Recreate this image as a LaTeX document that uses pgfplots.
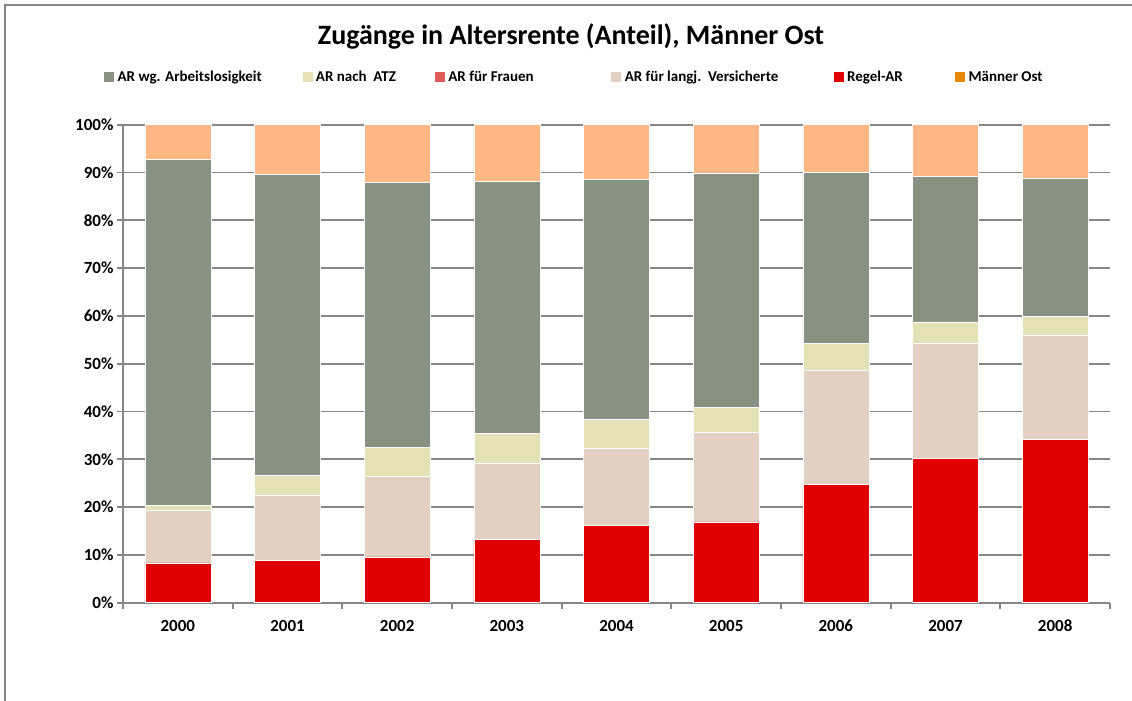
\documentclass[border=0pt]{standalone}
\usepackage{pgfplots}
\pgfplotsset{compat=1.18}
\usepackage{fontspec}
\setmainfont{Carlito}
\definecolor{cW}{RGB}{135,146,130}
\definecolor{cA}{RGB}{227,225,181}
\definecolor{cF}{RGB}{227,90,90}
\definecolor{cL}{RGB}{226,208,195}
\definecolor{cR}{RGB}{224,0,0}
\definecolor{cM}{RGB}{229,138,0}
\definecolor{cS}{RGB}{255,183,132}
\definecolor{gridgray}{RGB}{134,134,134}
\begin{document}
\begin{tikzpicture}[x=1pt,y=1pt]
\path[use as bounding box] (0,0) rectangle (1132,701);
\draw[gridgray, line width=2.5pt] (5,0) -- (5,696) -- (1132,696);
\node[font=\bfseries\fontsize{28}{32}\selectfont] at (571,665) {Zugänge in Altersrente (Anteil), Männer Ost};
\begin{axis}[
  at={(123pt,98.3pt)}, anchor=south west,
  scale only axis, width=987pt, height=478pt,
  ybar stacked, bar width=66pt,
  xmin=-0.5, xmax=8.5, ymin=0, ymax=100,
  xtick={-0.5,0.5,1.5,2.5,3.5,4.5,5.5,6.5,7.5,8.5},
  x tick label as interval,
  xticklabels={2000,2001,2002,2003,2004,2005,2006,2007,2008},
  ytick={0,10,20,30,40,50,60,70,80,90,100},
  yticklabels={0\%,10\%,20\%,30\%,40\%,50\%,60\%,70\%,80\%,90\%,100\%},
  axis x line*=bottom, axis y line*=left,
  axis line style={gridgray, line width=1.8pt, -},
  tick align=outside, major tick length=6pt,
  tick style={gridgray, line width=1.8pt},
  ymajorgrids, major grid style={gridgray, line width=1.8pt},
  ticklabel style={font=\bfseries\fontsize{17}{20}\selectfont, text=black},
  xticklabel style={yshift=-8pt},
  legend columns=6,
  legend style={at={(-0.01925,1.0998)}, anchor=west, draw=none, fill=none, inner sep=0pt,
    font=\bfseries\fontsize{15}{18}\selectfont,
    nodes={inner xsep=0pt, inner ysep=1pt},
    /tikz/every even column/.append style={column sep=0pt}},
  every axis plot/.append style={draw=white, line width=0.4pt},
]
% Regel-AR
\addplot[fill=cR, forget plot] coordinates {(0,8.35) (1,8.85) (2,9.6) (3,13.2) (4,16.2) (5,16.9) (6,24.8) (7,30.2) (8,34.2)};
% AR fuer langj. Versicherte
\addplot[fill=cL, forget plot] coordinates {(0,11.05) (1,13.65) (2,16.9) (3,16.0) (4,16.2) (5,18.8) (6,23.9) (7,24.0) (8,21.7)};
% AR fuer Frauen
\addplot[fill=cF, forget plot] coordinates {(0,0) (1,0) (2,0) (3,0) (4,0) (5,0) (6,0) (7,0) (8,0)};
% AR nach ATZ
\addplot[fill=cA, forget plot] coordinates {(0,1.0) (1,4.1) (2,6.0) (3,6.2) (4,6.0) (5,5.2) (6,5.5) (7,4.55) (8,4.0)};
% AR wg. Arbeitslosigkeit
\addplot[fill=cW, forget plot] coordinates {(0,72.3) (1,63.0) (2,55.4) (3,52.7) (4,50.2) (5,49.0) (6,35.9) (7,30.45) (8,29.0)};
% Rest
\addplot[fill=cS, forget plot] coordinates {(0,7.3) (1,10.4) (2,12.1) (3,11.9) (4,11.4) (5,10.1) (6,9.9) (7,10.8) (8,11.1)};

\addlegendimage{legend image code/.code={\fill[cW] (0pt,-4.5pt) rectangle (9pt,4.5pt);}}
\addlegendentry{\makebox[189pt][l]{\hspace{4pt}AR wg. Arbeitslosigkeit}}
\addlegendimage{legend image code/.code={\fill[cA] (0pt,-4.5pt) rectangle (9pt,4.5pt);}}
\addlegendentry{\makebox[123pt][l]{\hspace{4pt}AR nach\ \ ATZ}}
\addlegendimage{legend image code/.code={\fill[cF] (0pt,-4.5pt) rectangle (9pt,4.5pt);}}
\addlegendentry{\makebox[167pt][l]{\hspace{4pt}AR für Frauen}}
\addlegendimage{legend image code/.code={\fill[cL] (0pt,-4.5pt) rectangle (9pt,4.5pt);}}
\addlegendentry{\makebox[213pt][l]{\hspace{4pt}AR für langj.\ \ Versicherte}}
\addlegendimage{legend image code/.code={\fill[cR] (0pt,-4.5pt) rectangle (9pt,4.5pt);}}
\addlegendentry{\makebox[112pt][l]{\hspace{4pt}Regel-AR}}
\addlegendimage{legend image code/.code={\fill[cM] (0pt,-4.5pt) rectangle (9pt,4.5pt);}}
\addlegendentry{\hspace{4pt}Männer Ost}
\end{axis}
\end{tikzpicture}
\end{document}
